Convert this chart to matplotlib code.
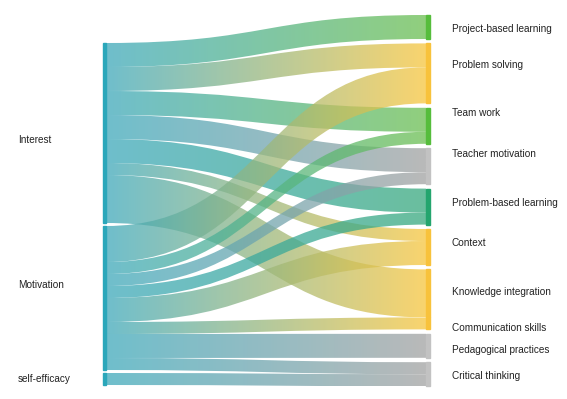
import numpy as np
import matplotlib.pyplot as plt
from matplotlib.path import Path
from matplotlib.patches import PathPatch, Rectangle
from matplotlib.colors import to_rgb

# nodes
sources = ["Interest", "Motivation", "self-efficacy"]
targets = ["Project-based learning", "Problem solving", "Team work",
           "Teacher motivation", "Problem-based learning", "Context",
           "Knowledge integration", "Communication skills",
           "Pedagogical practices", "Critical thinking"]

# counts per source -> target (same order as targets)
flows_interest = [2, 2, 2, 2, 2, 1, 4, 0, 0, 0]
flows_motivation = [0, 3, 1, 1, 1, 2, 0, 1, 2, 1]
flows_selfeff = [0, 0, 0, 0, 0, 0, 0, 0, 0, 1]
flows = [flows_interest, flows_motivation, flows_selfeff]

# styling
SRC_NODE = "#2ba7ba"
SRC_LINK = "#3fa9bb"
GREEN, YELLOW, GRAY, TEAL = "#6cbf52", "#f7c63e", "#a2a2a2", "#38aa7e"
tgt_link = [GREEN, YELLOW, GREEN, GRAY, TEAL, YELLOW, YELLOW, YELLOW, GRAY, GRAY]
tgt_node = {GREEN: "#56bd3c", YELLOW: "#f8c23c", GRAY: "#c2c2c2", TEAL: "#24a56e"}
ALPHA = 0.75
PX = 12          # pixels per count
X_SRC, W_SRC = 103, 3
X_TGT, W_TGT = 426, 4
merged = {"Communication skills"}   # drawn flush against the node above
src_nudge = [7, -13, 0]
tgt_nudge = [2, -8, -13, -12, -4, -4, -1, 5, 4, 2]

fig = plt.figure(figsize=(5.67, 3.99), dpi=100)
ax = fig.add_axes([0, 0, 1, 1])

# node layout
src_tot = [sum(f) for f in flows]
tgt_tot = [sum(f[j] for f in flows) for j in range(len(targets))]
src_y = []
y = 43
for v in src_tot:
    src_y.append(y)
    y += v * PX + 3
tgt_y = []
y = 15
for j, v in enumerate(tgt_tot):
    if j > 0 and targets[j] not in merged:
        y += 4.4
    tgt_y.append(y)
    y += v * PX


def band(x0, x1, a0, a1, h):
    xm = (x0 + x1) / 2
    verts = [(x0, a0), (xm, a0), (xm, a1), (x1, a1), (x1, a1 + h),
             (xm, a1 + h), (xm, a0 + h), (x0, a0 + h), (x0, a0)]
    codes = [Path.MOVETO, Path.CURVE4, Path.CURVE4, Path.CURVE4, Path.LINETO,
             Path.CURVE4, Path.CURVE4, Path.CURVE4, Path.CLOSEPOLY]
    return Path(verts, codes)


x0 = X_SRC + W_SRC
x1 = X_TGT
n = 256
t = np.linspace(0, 1, n)[:, None]
tgt_off = list(tgt_y)
for i, row in enumerate(flows):
    off = src_y[i]
    for j, v in enumerate(row):
        if v == 0:
            continue
        h = v * PX
        path = band(x0, x1, off, tgt_off[j], h)
        patch = PathPatch(path, facecolor="none", edgecolor="none",
                          transform=ax.transData)
        ax.add_patch(patch)
        c0 = np.array(to_rgb(SRC_LINK))
        c1 = np.array(to_rgb(tgt_link[j]))
        grad = np.ones((1, n, 4))
        grad[0, :, :3] = c0 * (1 - t) + c1 * t
        grad[0, :, 3] = ALPHA
        ymin = min(off, tgt_off[j])
        ymax = max(off, tgt_off[j]) + h
        im = ax.imshow(grad, extent=(x0, x1, ymax, ymin), aspect="auto",
                       interpolation="bilinear", zorder=1)
        im.set_clip_path(patch)
        off += h
        tgt_off[j] += h

# node bars and labels
for i, name in enumerate(sources):
    h = src_tot[i] * PX
    ax.add_patch(Rectangle((X_SRC, src_y[i]), W_SRC, h, color=SRC_NODE, zorder=3))
    ax.text(18, src_y[i] + h / 2 + src_nudge[i], name, va="center", ha="left",
            fontsize=7.2, family="Liberation Sans", color="#222222")
for j, name in enumerate(targets):
    h = tgt_tot[j] * PX
    ax.add_patch(Rectangle((X_TGT, tgt_y[j]), W_TGT, h,
                           color=tgt_node[tgt_link[j]], zorder=3))
    ax.text(452, tgt_y[j] + h / 2 + tgt_nudge[j], name, va="center", ha="left",
            fontsize=7.2, family="Liberation Sans", color="#222222")

ax.set_xlim(0, 567)
ax.set_ylim(399, 0)
ax.axis("off")
fig.savefig("out.png", dpi=100)
